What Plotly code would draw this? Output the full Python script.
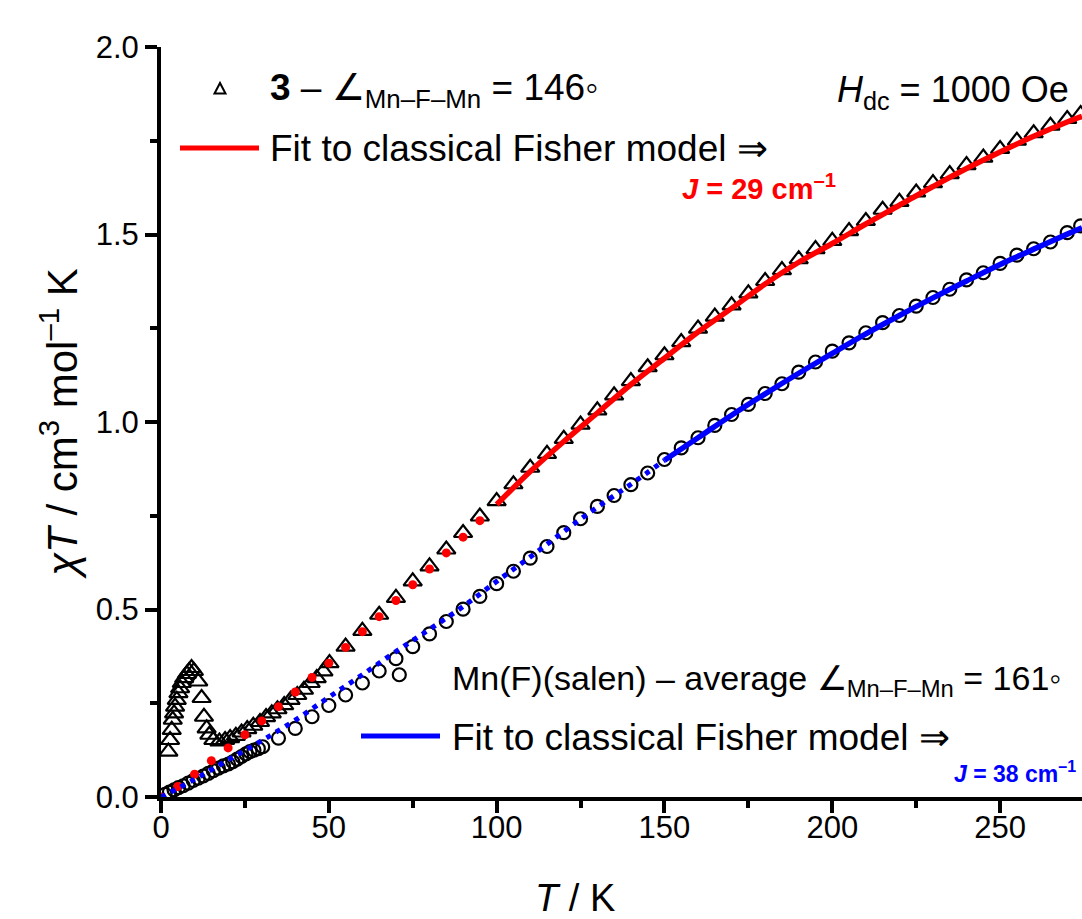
import plotly.graph_objects as go

# ---------------- data ----------------
# Compound 3 (open triangles)
T3 = [2.2, 2.7, 3.2, 3.5, 3.9, 4.2, 4.7, 5.2, 5.7, 6.2, 6.9, 7.7, 8.4, 9.1, 9.8,
      11.1, 12.1, 12.8, 13.6, 14.4, 15.6, 17.4, 19.1, 20.6, 22.3, 24.0, 25.7, 27.5,
      29.5, 31.3, 33.0, 34.7, 36.7, 38.6, 40.6, 42.6, 44.6, 46.4, 48.4, 50.2,
      55, 60, 65, 70, 75, 80, 85, 90, 95, 100, 105, 110, 115, 120, 125, 130, 135,
      140, 145, 150, 155, 160, 165, 170, 175, 180, 185, 190, 195, 200, 205, 210,
      215, 220, 225, 230, 235, 240, 245, 250, 255, 260, 265, 270, 274]
chiT3 = [0.121, 0.152, 0.179, 0.206, 0.223, 0.241, 0.259, 0.277, 0.290, 0.304, 0.317,
         0.328, 0.336, 0.344, 0.336, 0.308, 0.264, 0.214, 0.183, 0.166, 0.152, 0.148,
         0.152, 0.157, 0.163, 0.172, 0.181, 0.190, 0.200, 0.213, 0.223, 0.234, 0.245,
         0.259, 0.272, 0.286, 0.304, 0.317, 0.335, 0.357,
         0.401, 0.443, 0.486, 0.531, 0.575, 0.615, 0.660, 0.704, 0.748, 0.789, 0.834,
         0.878, 0.915, 0.955, 0.993, 1.031, 1.071, 1.109, 1.146, 1.178, 1.213, 1.249,
         1.281, 1.311, 1.343, 1.376, 1.405, 1.434, 1.461, 1.483, 1.509, 1.536, 1.566,
         1.587, 1.612, 1.637, 1.661, 1.685, 1.705, 1.728, 1.750, 1.770, 1.790, 1.808,
         1.821]

# Mn(F)(salen) (open circles)
Tsal = [1.2, 2.5, 3.9, 5.2, 6.6, 8.1, 9.6, 11.1, 12.6, 14.1, 15.6, 17.1, 18.6, 20.1,
        21.4, 22.7, 24.0, 25.3, 26.5, 27.7, 29.0, 30.3, 35, 40, 45, 50, 55, 60, 65,
        70, 71, 75, 80, 85, 90, 95, 100, 105, 110, 115, 120, 125, 130, 135, 140, 145,
        150, 155, 160, 165, 170, 175, 180, 185, 190, 195, 200, 205, 210, 215, 220,
        225, 230, 235, 240, 245, 250, 255, 260, 265, 270, 274]
chiTsal = [0.007, 0.013, 0.019, 0.025, 0.030, 0.037, 0.044, 0.050, 0.056, 0.063,
           0.070, 0.077, 0.083, 0.088, 0.094, 0.101, 0.108, 0.115, 0.121, 0.125,
           0.129, 0.134, 0.157, 0.183, 0.214, 0.244, 0.272, 0.304, 0.336, 0.369,
           0.326, 0.401, 0.435, 0.468, 0.501, 0.535, 0.569, 0.602, 0.637, 0.668,
           0.705, 0.742, 0.775, 0.804, 0.833, 0.864, 0.900, 0.931, 0.958, 0.991,
           1.020, 1.047, 1.076, 1.102, 1.133, 1.160, 1.189, 1.211, 1.238, 1.265,
           1.284, 1.309, 1.332, 1.354, 1.379, 1.398, 1.423, 1.445, 1.462, 1.480,
           1.505, 1.523]

# Fisher-model fit for 3: extrapolated points (<100 K) and fitted curve (>=100 K)
Tfit3_ext = [0, 5, 10, 15, 20, 25, 30, 35, 40, 45, 50, 55, 60, 65, 70, 75, 80, 85, 90, 95]
fit3_ext = [0.0, 0.028, 0.061, 0.097, 0.131, 0.166, 0.203, 0.241, 0.280, 0.319, 0.357,
            0.399, 0.441, 0.481, 0.524, 0.566, 0.608, 0.651, 0.693, 0.737]
Tfit3 = [100, 110, 120, 130, 140, 150, 160, 170, 180, 190, 200, 210, 220, 230, 240,
         250, 260, 270, 274.4]
fit3 = [0.780, 0.868, 0.948, 1.024, 1.100, 1.170, 1.240, 1.303, 1.368, 1.426, 1.476,
        1.528, 1.578, 1.628, 1.676, 1.720, 1.762, 1.800, 1.815]

# Fisher-model fit for Mn(F)(salen): extrapolated (<150 K) and fitted (>=150 K)
Tfitsal_ext = [0, 10, 20, 30, 40, 50, 60, 70, 80, 90, 100, 110, 120, 130, 140, 150]
fitsal_ext = [0.0, 0.047, 0.099, 0.150, 0.205, 0.266, 0.326, 0.388, 0.447, 0.508,
              0.575, 0.640, 0.708, 0.773, 0.834, 0.898]
Tfitsal = [150, 160, 170, 180, 190, 200, 210, 220, 230, 240, 250, 260, 270, 274.4]
fitsal = [0.898, 0.958, 1.018, 1.075, 1.130, 1.183, 1.235, 1.284, 1.331, 1.376, 1.420,
          1.461, 1.501, 1.518]

x_ticks = [0, 50, 100, 150, 200, 250]
x_minor = [25, 75, 125, 175, 225, 275]
y_ticks = [0.0, 0.5, 1.0, 1.5, 2.0]
y_minor = [0.25, 0.75, 1.25, 1.75]

# ---------------- figure ----------------
W, H = 1082, 919
L, R, TOP, B = 161, 0, 47, 122
FONT = "Liberation Sans, Arial, Helvetica, sans-serif"


def px(x):  # pixel -> paper x
    return (x - L) / (W - L - R)


def py(y):  # pixel -> paper y
    return (H - B - y) / (H - TOP - B)


fig = go.Figure()

fig.add_trace(go.Scatter(x=T3, y=chiT3, mode="markers", name="3",
                         marker=dict(symbol="triangle-up-open", size=16, color="black",
                                     line=dict(width=2.2, color="black"))))
fig.add_trace(go.Scatter(x=Tsal, y=chiTsal, mode="markers", name="Mn(F)(salen)",
                         marker=dict(symbol="circle-open", size=13, color="black",
                                     line=dict(width=2.2, color="black"))))
fig.add_trace(go.Scatter(x=Tfit3_ext, y=fit3_ext, mode="markers", name="fit 3 (extrap.)",
                         marker=dict(symbol="circle", size=9, color="#ff0000")))
fig.add_trace(go.Scatter(x=Tfitsal_ext, y=fitsal_ext, mode="lines", name="fit salen (extrap.)",
                         line=dict(color="#0000ff", width=5, dash="5px,6px", shape="spline")))
fig.add_trace(go.Scatter(x=Tfit3, y=fit3, mode="lines", name="fit 3",
                         line=dict(color="#ff0000", width=5.5, shape="spline")))
fig.add_trace(go.Scatter(x=Tfitsal, y=fitsal, mode="lines", name="fit salen",
                         line=dict(color="#0000ff", width=5.5, shape="spline")))

axis_common = dict(showline=True, linecolor="black", linewidth=4, mirror=False,
                   ticks="outside", ticklen=12, tickwidth=4, tickcolor="black",
                   showgrid=False, zeroline=False,
                   tickfont=dict(family=FONT, size=31, color="black"))

fig.update_xaxes(range=[0, 274.4], tickvals=x_ticks, ticktext=[str(v) for v in x_ticks],
                 minor=dict(tickvals=x_minor, ticks="outside", ticklen=7, tickwidth=4,
                            tickcolor="black"),
                 ticklabelstandoff=-12,
                 **axis_common)
fig.update_yaxes(range=[0, 2.0], tickvals=y_ticks, ticktext=[f"{v:.1f}" for v in y_ticks],
                 minor=dict(tickvals=y_minor, ticks="outside", ticklen=7, tickwidth=4,
                            tickcolor="black"),
                 title=dict(text="<i>χT</i> / cm<sup>3</sup> mol<sup>–1</sup> K",
                            font=dict(family=FONT, size=42, color="black"), standoff=6),
                 **axis_common)

ann_font = dict(family=FONT, size=37, color="black")
annotations = [
    # x-axis title (off-centre in the reference, so placed explicitly)
    dict(x=px(575), y=py(898), text="<i>T</i> / K", xanchor="center",
         font=dict(family=FONT, size=38, color="black")),
    dict(x=px(268), y=py(90), text="<b>3</b> – ∠<sub>Mn–F–Mn</sub> = 146◦",
         font=ann_font),
    dict(x=px(268), y=py(148), text="Fit to classical Fisher model ⇒", font=ann_font),
    dict(x=px(680), y=py(187), text="<b><i>J</i> = 29 cm<sup>–1</sup></b>",
         font=dict(family=FONT, size=29, color="#ff0000")),
    dict(x=px(835), y=py(92), text="<i>H</i><sub>dc</sub> = 1000 Oe",
         font=dict(family=FONT, size=36, color="black")),
    dict(x=px(450), y=py(680), text="Mn(F)(salen) – average ∠<sub>Mn–F–Mn</sub> = 161◦",
         font=dict(family=FONT, size=34, color="black")),
    dict(x=px(450), y=py(737), text="Fit to classical Fisher model ⇒", font=ann_font),
    dict(x=px(952), y=py(772), text="<b><i>J</i> = 38 cm<sup>–1</sup></b>",
         font=dict(family=FONT, size=23, color="#0000ff")),
]
for a in annotations:
    a.setdefault("xanchor", "left")
    a.update(xref="paper", yref="paper", yanchor="middle", showarrow=False)

shapes = [
    dict(type="line", xref="paper", yref="paper", x0=px(180), x1=px(259), y0=py(148),
         y1=py(148), line=dict(color="#ff0000", width=5)),
    dict(type="line", xref="paper", yref="paper", x0=px(361), x1=px(440), y0=py(736),
         y1=py(736), line=dict(color="#0000ff", width=5)),
    dict(type="path", xref="paper", yref="paper",
         path=f"M {px(220)},{py(83)} L {px(214.5)},{py(93.5)} L {px(225.5)},{py(93.5)} Z",
         line=dict(color="black", width=2), fillcolor="rgba(0,0,0,0)"),
]

fig.update_layout(width=W, height=H, margin=dict(l=L, r=R, t=TOP, b=B),
                  plot_bgcolor="white", paper_bgcolor="white", showlegend=False,
                  annotations=annotations, shapes=shapes,
                  font=dict(family=FONT, color="black"))

# remove the default page margin so the 1082x919 figure fills the window exactly
fig.write_html("out.html", config={"displayModeBar": False},
               post_script="document.body.style.margin='0';"
                           "document.body.style.overflow='hidden';")
